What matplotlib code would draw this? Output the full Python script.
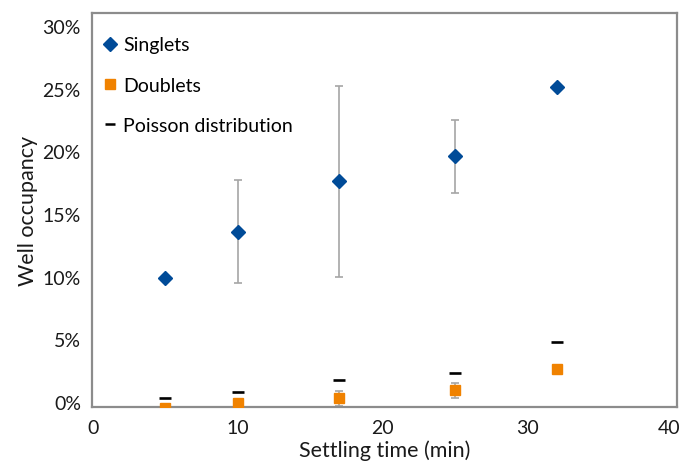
import matplotlib
matplotlib.use("Agg")
import matplotlib.pyplot as plt
import matplotlib.transforms as mtransforms
from matplotlib.lines import Line2D

plt.rcParams['font.family'] = ['Lato', 'DejaVu Sans']

# Data (percent)
time = [5, 10, 17, 25, 32]
singlets = [9.9, 13.6, 17.6, 19.6, 25.1]
singlets_err = [0, 4.1, 7.6, 2.9, 0]
doublets = [-0.45, -0.1, 0.28, 0.92, 2.67]
doublets_err = [0, 0, 0.6, 0.6, 0]
poisson = [0.3, 0.82, 1.76, 2.34, 4.81]

yticks = [0, 5, 10, 15, 20, 25, 30]
ytick_labels = ["0%", "5%", "10%", "15%", "20%", "25%", "30%"]
xticks = [0, 10, 20, 30, 40]
xtick_labels = ["0", "10", "20", "30", "40"]

fig = plt.figure(figsize=(6.82, 4.64), dpi=100)
ax = fig.add_axes([92/682, 56/464, 585/682, 394/464])

blue = "#004B98"
orange = "#F08200"
errc = "#A6A6A6"

ax.errorbar(time, singlets, yerr=singlets_err, fmt='none', ecolor=errc,
            elinewidth=1.2, capsize=3, capthick=1.2, zorder=2)
ax.errorbar(time, doublets, yerr=doublets_err, fmt='none', ecolor=errc,
            elinewidth=1.2, capsize=3, capthick=1.2, zorder=2)
ax.plot(time, singlets, linestyle='none', marker='D', markersize=7.3,
        color=blue, zorder=3)
ax.plot(time, doublets, linestyle='none', marker='s', markersize=7.8,
        color=orange, zorder=3)
ax.plot(time, poisson, linestyle='none', marker='_', markersize=8,
        markeredgewidth=1.9, color='black', zorder=3)

ax.set_xlim(-0.07, 40.3)
ax.set_ylim(-0.40, 31.04)
ax.set_xticks(xticks)
ax.set_xticklabels(xtick_labels)
ax.set_yticks(yticks)
ax.set_yticklabels(ytick_labels)
ax.tick_params(length=0, labelsize=14, pad=8, colors='#1a1a1a')
ax.tick_params(axis='x', pad=9)

# nudge the last x tick label left so it stays inside the figure
last = ax.get_xticklabels()[-1]
last.set_transform(last.get_transform() +
                   mtransforms.ScaledTranslation(-4/100, 0, fig.dpi_scale_trans))

for s in ax.spines.values():
    s.set_color('#8C8C8C')
    s.set_linewidth(1.6)

ax.set_xlabel("Settling time (min)", fontsize=15.5, labelpad=2, color='#1a1a1a')
ax.set_ylabel("Well occupancy", fontsize=15.5, labelpad=3, color='#1a1a1a')

handles = [
    Line2D([], [], linestyle='none', marker='D', markersize=7.3, color=blue),
    Line2D([], [], linestyle='none', marker='s', markersize=7.3, color=orange),
    Line2D([], [], linestyle='none', marker='_', markersize=7,
           markeredgewidth=1.8, color='black'),
]
ax.legend(handles, ["Singlets", "Doublets", "Poisson distribution"],
          loc='upper left', bbox_to_anchor=(-0.01, 0.985), frameon=False,
          fontsize=14, handlelength=0.7, handletextpad=0.3,
          labelspacing=1.2, borderaxespad=0.5)

fig.savefig("out.png", dpi=100)
